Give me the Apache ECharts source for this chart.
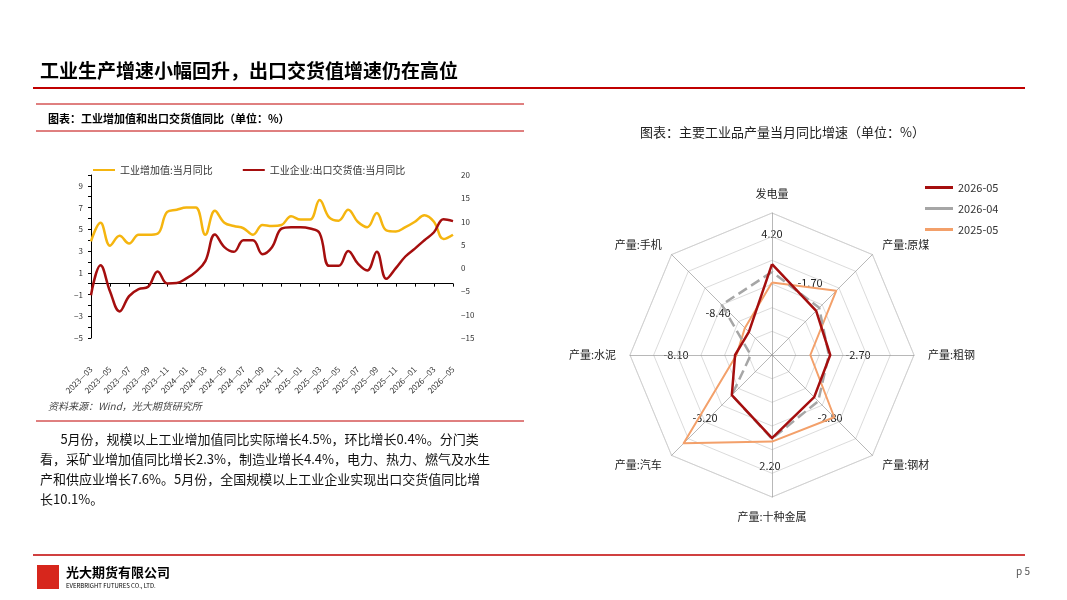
<!DOCTYPE html>
<html><head><meta charset="utf-8">
<script src="https://cdn.jsdelivr.net/npm/echarts@6/dist/echarts.min.js"></script>
<style>body{margin:0;background:#fff}#main{width:1067px;height:600px}</style>
</head><body><div id="main"></div>
<script>
var FONT = '"Noto Sans CJK SC", sans-serif';
var months = ['2023-03','2023-04','2023-05','2023-06','2023-07','2023-08','2023-09','2023-10','2023-11','2023-12',
 '2024-01','2024-02','2024-03','2024-04','2024-05','2024-06','2024-07','2024-08','2024-09','2024-10','2024-11','2024-12',
 '2025-01','2025-02','2025-03','2025-04','2025-05','2025-06','2025-07','2025-08','2025-09','2025-10','2025-11','2025-12',
 '2026-01','2026-02','2026-03','2026-04','2026-05'];
var valueAdded = [3.9,5.6,3.5,4.4,3.7,4.5,4.5,4.6,6.6,6.8,7.0,7.0,4.5,6.7,5.6,5.3,5.1,4.5,5.4,5.3,5.4,6.2,5.9,5.9,7.7,6.1,5.8,6.8,5.7,5.2,6.5,4.9,4.8,5.2,5.7,6.3,5.7,4.1,4.5];
var exportDelivery = [-5.8,0.6,-5,-9.3,-6,-4.5,-4,-0.7,-3.3,-3.2,-2.2,-0.8,1.5,7.2,4.5,3.5,6,6,3,4.5,8.5,8.8,8.8,8.5,7.5,0.5,0.5,3.7,1,-0.5,3.5,-2.3,0,2.5,4.2,6,7.7,10.5,10.1];

// 顺时针顺序
var radarNames = ['发电量','产量:原煤','产量:粗钢','产量:钢材','产量:十种金属','产量:汽车','产量:水泥','产量:手机'];
// 各指标标准化后的位置（0~1）
var r2605 = [0.64,0.44,0.41,0.42,0.585,0.40,0.26,0.23];
var r2604 = [0.585,0.47,0.40,0.46,0.59,0.40,0.15,0.50];
var r2505 = [0.51,0.64,0.27,0.62,0.61,0.88,0.25,0.27];
var radarLabels = ['4.20','-1.70','-2.70','-2.80','2.20','-3.20','-8.10','-8.40'];

// echarts 雷达是逆时针排列，转换一下
function cw(arr){return [arr[0]].concat(arr.slice(1).reverse());}

var myChart = echarts.init(document.getElementById('main'));

function txt(x,y,t,size,opt){
  var s = {text:t,font:(opt&&opt.weight||'normal')+' '+size+'px '+FONT,fill:(opt&&opt.color)||'#222'};
  if(opt&&opt.lh) s.lineHeight=opt.lh;
  return {type:'text',left:x,top:y,style:s};
}
function line(x1,y1,x2,y2,c,w){return {type:'line',shape:{x1:x1,y1:y1,x2:x2,y2:y2},style:{stroke:c,lineWidth:w}};}

var graphics = [
  txt(40,61,'工业生产增速小幅回升，出口交货值增速仍在高位',19,{weight:'bold',color:'#000'}),
  line(33,88,1025,88,'#c00000',2),
  line(36,104,524,104,'#c00000',1),
  txt(48,113,'图表：工业增加值和出口交货值同比（单位：%）',11,{weight:'bold',color:'#000'}),
  line(36,131,524,131,'#c00000',1),
  {type:'text',left:48,top:401,style:{text:'资料来源：Wind，光大期货研究所',font:'italic 10px '+FONT,fill:'#444'}},
  line(36,421,524,421,'#c00000',1),
  txt(40,429,'       5月份，规模以上工业增加值同比实际增长4.5%，环比增长0.4%。分门类\n看，采矿业增加值同比增长2.3%，制造业增长4.4%，电力、热力、燃气及水生\n产和供应业增长7.6%。5月份，全国规模以上工业企业实现出口交货值同比增\n长10.1%。',13,{color:'#111',lh:20}),
  txt(640,126,'图表：主要工业品产量当月同比增速（单位：%）',13,{color:'#222'}),
  line(33,555,1025,555,'#c00000',1.5),
  {type:'rect',shape:{x:37,y:565,width:22,height:24},style:{fill:'#d7261c'}},
  txt(66,566,'光大期货有限公司',13,{weight:'bold',color:'#000'}),
  txt(66,583,'EVERBRIGHT FUTURES CO., LTD.',6,{color:'#000'}),
  txt(1016,566,'p 5',10,{color:'#555'})
];
// 雷达图数值标注
var lblPos = [[772,228],[810,277],[858,349],[830,412],[770,460],[705,412],[676,349],[718,307]];
radarLabels.forEach(function(l,i){
  graphics.push({type:'text',x:lblPos[i][0],y:lblPos[i][1],style:{text:l,font:'11px '+FONT,fill:'#222',textAlign:'center'}});
});

myChart.setOption({
  animation:false,
  textStyle:{fontFamily:FONT},
  graphic:graphics,
  legend:[{
    data:['工业增加值:当月同比','工业企业:出口交货值:当月同比'],
    left:88,top:160,itemWidth:22,itemHeight:2,itemGap:30,icon:'rect',
    textStyle:{fontSize:10,color:'#333'}
  },{
    data:['2026-05','2026-04','2025-05'],orient:'vertical',
    left:920,top:177,itemWidth:28,itemHeight:3,itemGap:10,icon:'rect',
    textStyle:{fontSize:11,color:'#333'}
  }],
  grid:{left:91,right:614,top:175,bottom:262},
  xAxis:{type:'category',data:months,boundaryGap:false,
    axisLine:{onZero:true,onZeroAxisIndex:0,lineStyle:{color:'#000'}},
    axisTick:{alignWithLabel:true,length:3},
    axisLabel:{interval:1,rotate:45,fontSize:8,color:'#333',margin:30,
      formatter:function(v){return v.replace('-','—');}}},
  yAxis:[{type:'value',min:-5,max:10,interval:1,
    axisLine:{show:true,lineStyle:{color:'#000'}},axisTick:{show:true,length:3},
    splitLine:{show:false},
    axisLabel:{fontSize:8,color:'#333',formatter:function(v){return (Math.abs(v)%2===1&&v<10)?String(v).replace('-','−'):'';}}},
   {type:'value',min:-15,max:20,interval:5,position:'right',
    axisLine:{show:false},axisTick:{show:false},splitLine:{show:false},
    axisLabel:{fontSize:8,color:'#333',formatter:function(v){return String(v).replace('-','−');}}}],
  radar:{center:[772,355],radius:142,startAngle:90,splitNumber:6,shape:'polygon',
    indicator:cw(radarNames).map(function(n){return {name:n,max:1,min:0};}),
    axisName:{color:'#222',fontSize:11,fontFamily:FONT},nameGap:14,
    axisLine:{lineStyle:{color:'#999',width:0.7}},
    splitLine:{lineStyle:{color:'#ccc',width:0.7}},splitArea:{show:false}},
  series:[
    {name:'工业增加值:当月同比',type:'line',data:valueAdded,yAxisIndex:0,smooth:0.4,symbol:'none',
      lineStyle:{color:'#f5b50f',width:2.5},itemStyle:{color:'#f5b50f'}},
    {name:'工业企业:出口交货值:当月同比',type:'line',data:exportDelivery,yAxisIndex:1,smooth:0.4,symbol:'none',
      lineStyle:{color:'#a50e0e',width:2.5},itemStyle:{color:'#a50e0e'}},
    {type:'radar',symbol:'none',data:[
      {name:'2025-05',value:cw(r2505),lineStyle:{color:'#f3a06a',width:2},itemStyle:{color:'#f3a06a'}},
      {name:'2026-04',value:cw(r2604),lineStyle:{color:'#a6a6a6',width:2.5,type:'dashed'},itemStyle:{color:'#a6a6a6'}},
      {name:'2026-05',value:cw(r2605),lineStyle:{color:'#a50e0e',width:2.5},itemStyle:{color:'#a50e0e'}}
    ]}
  ]
});
</script></body></html>
